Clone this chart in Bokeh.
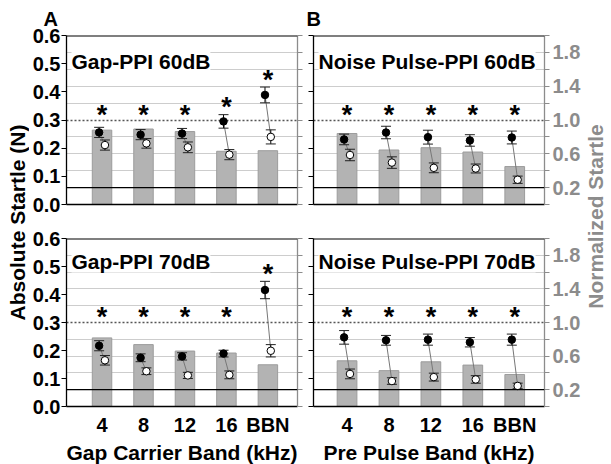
import numpy as np
from bokeh.plotting import figure
from bokeh.models import (Range1d, LinearAxis, FixedTicker, PrintfTickFormatter,
                          CustomJSTickFormatter, Grid, Span, Label, Title, ColumnDataSource)
from bokeh.layouts import row, column
from bokeh.transform import dodge
from bokeh.core.properties import value
from bokeh.embed import file_html
from bokeh.resources import INLINE

# ---------------- data ----------------
categories = ["4", "8", "12", "16", "BBN"]
cat_pos = [1, 2, 3, 4, 5]

abs_ticks = [0.0, 0.1, 0.2, 0.3, 0.4, 0.5, 0.6]
norm_all_ticks = [0.0, 0.2, 0.4, 0.6, 0.8, 1.0, 1.2, 1.4, 1.6, 1.8, 2.0]
norm_label_ticks = [0.2, 0.6, 1.0, 1.4, 1.8]
norm_minor_ticks = [0.0, 0.4, 0.8, 1.2, 1.6, 2.0]
light_grid = [0.4, 0.6, 0.8, 1.2, 1.4, 1.6, 1.8]
unity_line = [1.0]
ref_line = 0.2
abs_max = 0.6
norm_max = 2.0

# Gap-PPI 60dB (absolute startle, N)
gap60_bar = [0.264, 0.268, 0.259, 0.189, 0.191]
gap60_filled = [0.256, 0.248, 0.252, 0.295, 0.389]
gap60_filled_sem = [0.018, 0.018, 0.018, 0.024, 0.028]
gap60_open = [0.211, 0.217, 0.203, 0.177, 0.240]
gap60_open_sem = [0.018, 0.017, 0.019, 0.018, 0.025]
gap60_star = [0.327, 0.327, 0.327, 0.356, 0.453]

# Gap-PPI 70dB (absolute startle, N)
gap70_bar = [0.245, 0.221, 0.198, 0.191, 0.149]
gap70_filled = [0.217, 0.174, 0.179, 0.189, 0.416]
gap70_filled_sem = [0.018, 0.014, 0.013, 0.012, 0.031]
gap70_open = [0.165, 0.126, 0.111, 0.113, 0.199]
gap70_open_sem = [0.017, 0.012, 0.011, 0.014, 0.022]
gap70_star = [0.332, 0.332, 0.332, 0.332, 0.484]

# Noise Pulse-PPI 60dB (normalized startle)
np60_bar = [0.84, 0.645, 0.672, 0.621, 0.449]
np60_filled = [0.77, 0.852, 0.797, 0.758, 0.793]
np60_filled_sem = [0.063, 0.074, 0.082, 0.068, 0.076]
np60_open = [0.586, 0.496, 0.434, 0.426, 0.293]
np60_open_sem = [0.068, 0.068, 0.058, 0.053, 0.043]
np60_star = [1.10, 1.10, 1.10, 1.10, 1.10]

# Noise Pulse-PPI 70dB (normalized startle)
np70_bar = [0.544, 0.427, 0.532, 0.493, 0.381]
np70_filled = [0.823, 0.788, 0.796, 0.765, 0.796]
np70_filled_sem = [0.081, 0.058, 0.066, 0.056, 0.066]
np70_open = [0.388, 0.303, 0.35, 0.322, 0.245]
np70_open_sem = [0.058, 0.039, 0.047, 0.045, 0.033]
np70_star = [1.107, 1.107, 1.107, 1.107, 1.107]

FONT = "Liberation Sans"
GRAY_AX = "#8c8c8c"


def make_panel(left, top, title, bars, filled, filled_sem, opened, opened_sem,
               stars, y_name, xtitle=None, letter=None):
    width = 276 if left else 278
    height = 221 if top else 243
    p = figure(width=width, height=height,
               x_range=Range1d(0.143, 5.714) if left else Range1d(0.2, 5.71),
               y_range=Range1d(0, abs_max),
               toolbar_location=None, output_backend="svg", tools="",
               min_border_left=34 if left else 8,
               min_border_right=8 if left else 38,
               min_border_top=34 if top else 17,
               min_border_bottom=17 if top else 54)
    p.extra_y_ranges = {"norm": Range1d(0, norm_max)}
    p.xgrid.visible = False
    p.ygrid.visible = False
    p.outline_line_color = None
    p.border_fill_color = "white"
    p.background_fill_color = "white"

    if letter is not None:
        p.title.text = letter[0]
        p.title.align = "left"
        p.title.offset = letter[1]
        p.title.standoff = 11
        p.title.text_font = FONT
        p.title.text_font_style = "bold"
        p.title.text_font_size = "20px"
        p.title.text_color = "black"

    p.add_layout(Grid(dimension=1, ticker=FixedTicker(ticks=light_grid),
                      y_range_name="norm", grid_line_color="#9a9a9a",
                      grid_line_dash="1 1", grid_line_width=1))
    p.add_layout(Grid(dimension=1, ticker=FixedTicker(ticks=unity_line),
                      y_range_name="norm", grid_line_color="#555555",
                      grid_line_dash="2 2", grid_line_width=1.5))

    # left (absolute) axis
    ya = p.yaxis[0]
    ya.ticker = FixedTicker(ticks=abs_ticks)
    ya.axis_line_color = "black"
    ya.axis_line_width = 1.3
    ya.major_tick_line_color = "black"
    ya.major_tick_line_width = 1.2
    ya.major_tick_out = 5
    ya.major_tick_in = 0
    ya.minor_tick_out = 0
    ya.minor_tick_in = 0
    if left:
        ya.formatter = PrintfTickFormatter(format="%.1f")
        ya.major_label_text_font = FONT
        ya.major_label_text_font_style = "bold"
        ya.major_label_text_font_size = "20px"
        ya.major_label_text_color = "black"
        ya.major_label_standoff = 1
    else:
        ya.formatter = CustomJSTickFormatter(code="return ''")
        ya.major_label_standoff = 0

    # right (normalized) axis
    if left:
        yr = LinearAxis(y_range_name="norm", ticker=FixedTicker(ticks=norm_all_ticks),
                        formatter=CustomJSTickFormatter(code="return ''"),
                        major_label_standoff=0)
    else:
        yr = LinearAxis(y_range_name="norm",
                        ticker=FixedTicker(ticks=norm_label_ticks, minor_ticks=norm_minor_ticks),
                        formatter=PrintfTickFormatter(format="%.1f"),
                        major_label_text_font=FONT, major_label_text_font_style="bold",
                        major_label_text_font_size="20px", major_label_text_color=GRAY_AX,
                        major_label_standoff=3)
    yr.axis_line_color = GRAY_AX
    yr.axis_line_width = 1.3
    yr.major_tick_line_color = GRAY_AX
    yr.minor_tick_line_color = GRAY_AX
    yr.major_tick_line_width = 1.2
    yr.minor_tick_line_width = 1.2
    yr.major_tick_out = 5
    yr.major_tick_in = 0
    yr.minor_tick_out = 5
    yr.minor_tick_in = 0
    p.add_layout(yr, "right")

    # x axis
    xa = p.xaxis[0]
    xa.axis_line_color = "black"
    xa.axis_line_width = 1.3
    xa.major_tick_out = 0
    xa.major_tick_in = 0
    xa.minor_tick_out = 0
    xa.minor_tick_in = 0
    if top:
        xa.ticker = FixedTicker(ticks=[])
    else:
        xa.ticker = FixedTicker(ticks=cat_pos)
        xa.major_label_overrides = {pos: c for pos, c in zip(cat_pos, categories)}
        xa.major_label_text_font = FONT
        xa.major_label_text_font_style = "bold"
        xa.major_label_text_font_size = "20px"
        xa.major_label_text_color = "black"
        xa.major_label_standoff = 7

    # top frame edge
    p.add_layout(Span(location=abs_max, dimension="width", line_color="black",
                      line_width=2.2))

    f = np.array(filled)
    fs = np.array(filled_sem)
    o = np.array(opened)
    os_ = np.array(opened_sem)
    src = ColumnDataSource(dict(x=cat_pos, bar=bars, f=filled, f_hi=list(f + fs),
                                f_lo=list(f - fs), o=opened, o_hi=list(o + os_),
                                o_lo=list(o - os_), star=stars))
    kw = dict(source=src, y_range_name=y_name) if y_name != "default" else dict(source=src)

    p.vbar(x="x", top="bar", bottom=0, width=0.47, fill_color="#b3b3b3",
           line_color="#9c9c9c", line_width=1, **kw)

    xf = dodge("x", -0.07)
    xo = dodge("x", 0.07)
    p.segment(x0=xf, y0="f", x1=xo, y1="o", line_color="#777777", line_width=1, **kw)
    for xx, lo, hi in ((xf, "f_lo", "f_hi"), (xo, "o_lo", "o_hi")):
        p.segment(x0=xx, y0=lo, x1=xx, y1=hi, line_color="black", line_width=1, **kw)
        p.scatter(x=xx, y=hi, marker="dash", size=10, line_color="#222222", line_width=1, **kw)
        p.scatter(x=xx, y=lo, marker="dash", size=10, line_color="#222222", line_width=1, **kw)
    p.scatter(x=xf, y="f", marker="circle", size=7.5, fill_color="black",
              line_color="black", **kw)
    p.scatter(x=xo, y="o", marker="circle", size=7.5, fill_color="white",
              line_color="black", line_width=1, **kw)

    p.text(x="x", y="star", text=value("*"), text_font=value(FONT),
           text_font_style="bold", text_font_size=value("27px"), text_align="center",
           text_baseline="alphabetic", text_color="black", y_offset=3, **kw)

    p.add_layout(Span(location=ref_line, dimension="width", y_range_name="norm",
                      line_color="black", line_width=1.2))

    p.add_layout(Label(x=5, y=143 if top else 145.5, x_units="screen", y_units="screen",
                       text=title, text_font=FONT, text_font_style="bold",
                       text_font_size="21px", text_baseline="alphabetic",
                       text_color="black", background_fill_color="white"))
    if xtitle is not None:
        p.add_layout(Title(text=xtitle, align="center", offset=9, standoff=1,
                           text_font=FONT, text_font_style="bold", text_font_size="21px",
                           text_color="black"), "below")
    return p


tl = make_panel(True, True, "Gap-PPI 60dB", gap60_bar, gap60_filled, gap60_filled_sem,
                gap60_open, gap60_open_sem, gap60_star, "default", letter=("A", -23))
bl = make_panel(True, False, "Gap-PPI 70dB", gap70_bar, gap70_filled, gap70_filled_sem,
                gap70_open, gap70_open_sem, gap70_star, "default",
                xtitle="Gap Carrier Band (kHz)")
tr = make_panel(False, True, "Noise Pulse-PPI 60dB", np60_bar, np60_filled, np60_filled_sem,
                np60_open, np60_open_sem, np60_star, "norm", letter=("B", -7))
br = make_panel(False, False, "Noise Pulse-PPI 70dB", np70_bar, np70_filled, np70_filled_sem,
                np70_open, np70_open_sem, np70_star, "norm",
                xtitle="Pre Pulse Band (kHz)")


def title_fig(width, text, color, x, y):
    p = figure(width=width, height=464, toolbar_location=None, output_backend="svg",
               tools="", x_axis_location=None, y_axis_location=None, min_border=0,
               x_range=Range1d(0, 1), y_range=Range1d(0, 1))
    p.grid.visible = False
    p.outline_line_color = None
    p.add_layout(Label(x=x, y=y, x_units="screen", y_units="screen", text=text,
                       angle=90, angle_units="deg", text_align="center",
                       text_baseline="middle", text_font=FONT, text_font_style="bold",
                       text_font_size="21px", text_color=color))
    return p


ytl = title_fig(29, "Absolute Startle (N)", "black", 16.5, 242)
ytr = title_fig(28, "Normalized Startle", GRAY_AX, 12, 248)

layout = row(ytl, column(tl, bl), column(tr, br), ytr)

open("out.html", "w").write(file_html(layout, INLINE))
